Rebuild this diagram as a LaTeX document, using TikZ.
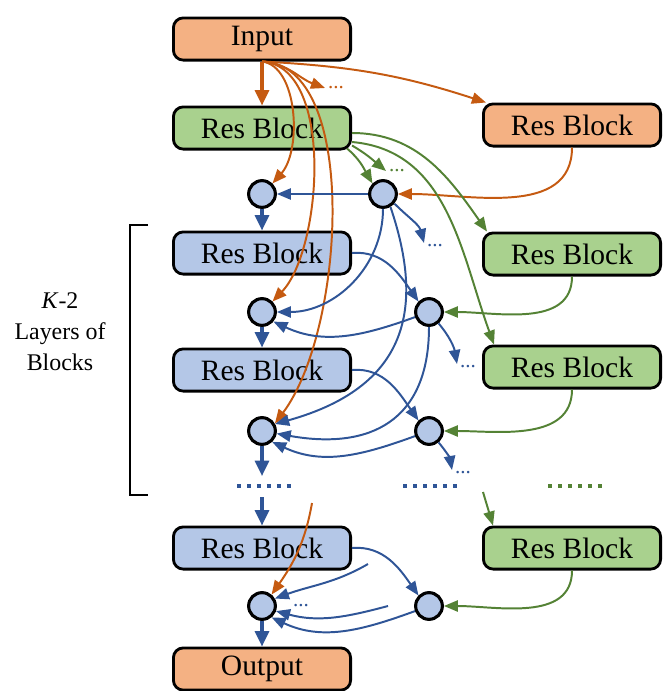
\documentclass[tikz,border=0pt]{standalone}
\usepackage{fontspec}
\setmainfont{Liberation Serif}
\usetikzlibrary{arrows.meta,positioning,calc}
\definecolor{ofill}{RGB}{244,177,131}
\definecolor{gfill}{RGB}{169,209,142}
\definecolor{bfill}{RGB}{180,199,231}
\definecolor{oline}{RGB}{197,90,17}
\definecolor{gline}{RGB}{84,130,53}
\definecolor{bline}{RGB}{47,85,151}

\begin{document}
\begin{tikzpicture}[
    x=0.025cm, y=0.025cm,
    block/.style={draw, line width=2pt, rounded corners=7pt, minimum width=126pt, minimum height=30pt, inner sep=0pt, font=\fontsize{21}{24}\selectfont},
    oblock/.style={block, fill=ofill},
    gblock/.style={block, fill=gfill},
    bblock/.style={block, fill=bfill},
    merge/.style={circle, draw, line width=2.2pt, fill=bfill, minimum size=19pt, inner sep=0pt},
    conn/.style={-{Triangle[length=10pt,width=8pt]}, line width=1.4pt},
    oarr/.style={conn, oline},
    garr/.style={conn, gline},
    barr/.style={conn, bline},
    flow/.style={line width=2.2pt, -{Triangle[length=11pt,width=10pt]}},
    more/.style={font=\fontsize{15}{15}\selectfont, inner sep=0pt},
    dotrow/.style={line width=3pt, dash pattern=on 2.8pt off 4.31pt},
]
\useasboundingbox (0,0) rectangle (663,-691);

% main column
\node[oblock] (inp) at (262,-39) {Input};
\node[gblock] (bl1) at (262,-128) {Res Block};
\node[merge] (cl1) at (262,-194) {};
\node[bblock] (bl2) at (262,-253) {Res Block};
\node[merge] (cl2) at (262,-312) {};
\node[bblock] (bl3) at (262,-370) {Res Block};
\node[merge] (cl3) at (262,-431) {};
\node[bblock] (bl4) at (262,-548) {Res Block};
\node[merge] (cl4) at (262,-606) {};
\node[oblock] (out) at (262,-669) {Output};

% side column
\node[oblock] (br1) at (572,-125) {Res Block};
\node[gblock] (br2) at (572,-254) {Res Block};
\node[gblock] (br3) at (572,-367) {Res Block};
\node[gblock] (br4) at (572,-548) {Res Block};
\node[merge] (cr1) at (383,-194) {};
\node[merge] (cr2) at (429,-312) {};
\node[merge] (cr3) at (429,-431) {};
\node[merge] (cr4) at (429,-606) {};

% bracket and label
\draw[line width=2pt] (148,-225) -- (130,-225) -- (130,-495) -- (148,-495);
\node[align=center, font=\fontsize{17}{22}\selectfont] (lbl) at (60,-332) {\textit{K}-2\\Layers of\\Blocks};

% skipped layers
\draw[dotrow, bline] (237,-486) -- (291,-486);
\draw[dotrow, bline] (403,-486) -- (457,-486);
\draw[dotrow, gline] (548,-486) -- (602,-486);

% main flow
\coordinate (gap1) at (262,-476);
\coordinate (gap2) at (262,-497);
\draw[oarr, flow] (inp) -- (bl1);
\draw[barr, flow] (cl1) -- (bl2);
\draw[barr, flow] (cl2) -- (bl3);
\draw[barr, flow] (cl3) -- (gap1);
\draw[barr, flow] (gap2) -- (bl4);
\draw[barr, flow] (cl4) -- (out);

% input fan
\coordinate (otip) at (325,-88);
\draw[oarr] (inp.south) to[out=-5,in=160] (otip);
\node[more, text=oline, right=2pt of otip] (odots) {...};
\draw[oarr] (inp.south) to[out=-3,in=162] ($(br1.north west)+(4,0)$);
\draw[oarr] (inp.south) .. controls (298,-66) and (302,-150) .. (cl1.45);
\draw[oarr] (inp.south) .. controls (335,-66) and (322,-250) .. (cl2.45);
\draw[oarr] (inp.south) .. controls (360,-64) and (345,-330) .. (cl3.30);
\draw[oarr] (br1.south) to[out=-90,in=0] (cr1.east);
\coordinate (olate) at (312,-503);
\draw[oarr] (olate) to[out=-100,in=55] (cl4.50);

% first block fan
\draw[garr] ($(bl1.east)+(0,-5)$) to[out=0,in=125] ($(br2.north west)+(5,0)$);
\draw[garr] ($(bl1.east)+(0,-14)$) to[out=-5,in=110] ($(br3.north west)+(12,0)$);
\draw[garr] ($(bl1.south east)+(-5,2)$) to[out=-40,in=120] (cr1.135);
\coordinate (gtip) at (386,-171);
\draw[garr] ($(bl1.south east)+(0,5)$) to[out=-30,in=140] (gtip);
\node[more, text=gline, right=2pt of gtip] (gdots) {...};

% side blocks into merges
\draw[garr] (br2.south) to[out=-90,in=0] (cr2.east);
\draw[garr] (br3.south) to[out=-90,in=0] (cr3.east);
\draw[garr] (br4.south) to[out=-90,in=0] (cr4.east);
\coordinate (glate) at (483,-492);
\draw[garr] (glate) -- ($(br4.north west)+(11,0)$);

% merges
\draw[barr] (cr1) -- (cl1);
\draw[barr] (cr1.south) to[out=-90,in=0] (cl2.east);
\draw[barr] (cr1.-60) .. controls (422,-300) and (415,-385) .. (cl3.28);
\coordinate (btip1) at (424,-243);
\draw[barr] (cr1.-40) to[out=-45,in=105] (btip1);
\node[more, text=bline, right=2pt of btip1, yshift=-2pt] (bdots1) {...};

\draw[barr] (bl2.east) to[out=5,in=125] (cr2.135);
\draw[barr] (cr2.200) to[out=200,in=-25] (cl2.-40);
\draw[barr] (cr2.south) to[out=-90,in=-10, looseness=1.3] (cl3.-10);
\coordinate (btip2) at (457,-364);
\draw[barr] (cr2.-50) to[out=-50,in=100] (btip2);
\node[more, text=bline, right=2pt of btip2, yshift=-2pt] (bdots2) {...};

\draw[barr] (bl3.east) to[out=5,in=125] (cr3.135);
\draw[barr] (cr3.200) to[out=200,in=-25] (cl3.-47);
\coordinate (btip3) at (452,-470);
\draw[barr] (cr3.-50) to[out=-50,in=100] (btip3);
\node[more, text=bline, right=2pt of btip3, yshift=-2pt] (bdots3) {...};

\draw[barr] (bl4.east) to[out=5,in=125] (cr4.135);
\draw[barr] (cr4.200) to[out=200,in=-25] (cl4.-50);
\coordinate (bfree1) at (368,-564);
\coordinate (bfree2) at (388,-606);
\draw[barr] (bfree1) to[out=210,in=20] (cl4.30);
\draw[barr] (bfree2) to[out=195,in=-15] (cl4.-20);
\node[more, text=bline] (bdots4) at (301,-606) {...};

\end{tikzpicture}
\end{document}
